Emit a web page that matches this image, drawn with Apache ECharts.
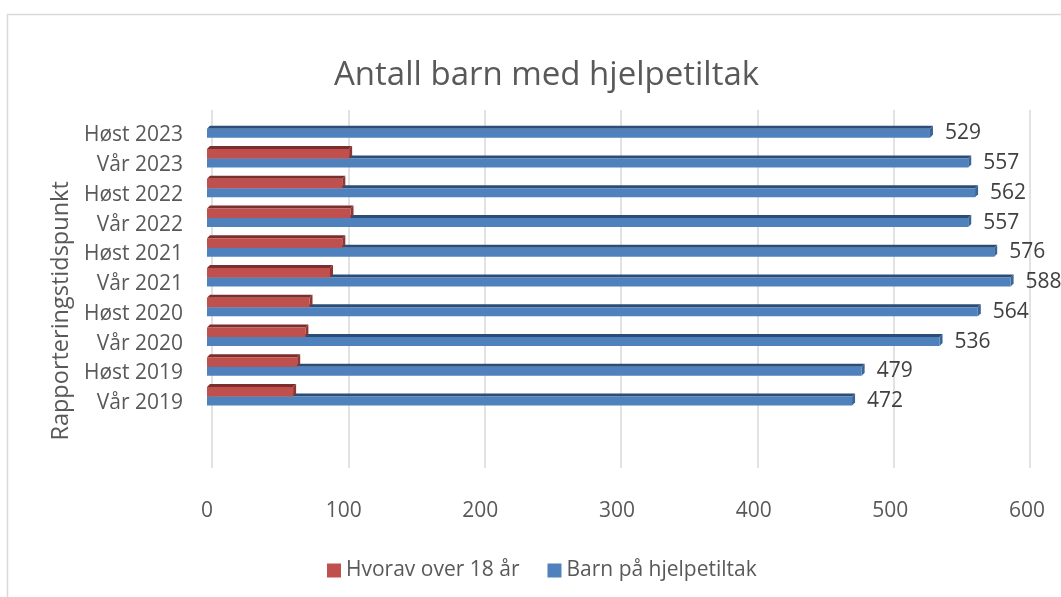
<!DOCTYPE html>
<html>
<head>
<meta charset="utf-8">
<title>Antall barn med hjelpetiltak</title>
<script src="https://cdn.jsdelivr.net/npm/echarts@6/dist/echarts.min.js"></script>
<style>
  html, body { margin: 0; padding: 0; background: #fff; }
  #chart { width: 1061px; height: 597px; }
</style>
</head>
<body>
<div id="chart"></div>
<script>
  // rapporteringstidspunkt, nederst til øverst
  var periods = ['Vår 2019', 'Høst 2019', 'Vår 2020', 'Høst 2020', 'Vår 2021',
    'Høst 2021', 'Vår 2022', 'Høst 2022', 'Vår 2023', 'Høst 2023']
  var barnPaHjelpetiltak = [472, 479, 536, 564, 588, 576, 557, 562, 557, 529]
  var hvoravOver18 = [63, 66, 72, 75, 90, 99, 105, 99, 104, null]
  var xTicks = [0, 100, 200, 300, 400, 500, 600]

  // Excel-diagrammet har to tomme plasser under første kategori
  var categories = [' ', '  '].concat(periods)

  var font = '"Open Sans", "DejaVu Sans", sans-serif'
  var grey = '#595959'

  // 3D-aktig stolpe: front, topp og side
  function bar3d (top, height, colors, showLabel) {
    return function (params, api) {
      var val = api.value(0)
      if (val == null || isNaN(val)) return
      var start = api.coord([0, api.value(1)])
      var end = api.coord([val, api.value(1)])
      var x0 = start[0]
      var x1 = end[0]
      var y0 = start[1] + top
      var d = 3
      var children = [
        {
          type: 'polygon',
          shape: { points: [[x0, y0], [x0 + d, y0 - d], [x1 + d, y0 - d], [x1, y0]] },
          style: { fill: colors.top }
        },
        {
          type: 'polygon',
          shape: { points: [[x1, y0], [x1 + d, y0 - d], [x1 + d, y0 - d + height], [x1, y0 + height]] },
          style: { fill: colors.side }
        },
        {
          type: 'rect',
          shape: { x: x0, y: y0, width: x1 - x0, height: height },
          style: { fill: colors.face }
        }
      ]
      if (showLabel) {
        children.push({
          type: 'text',
          x: x1 + 15,
          y: start[1] + 2,
          style: {
            text: String(val),
            font: '21px ' + font,
            fill: '#404040',
            align: 'left',
            verticalAlign: 'middle'
          }
        })
      }
      return { type: 'group', children: children }
    }
  }

  var chart = echarts.init(document.getElementById('chart'))

  chart.setOption({
    animation: false,
    backgroundColor: '#fff',
    textStyle: { fontFamily: font },
    title: {
      text: 'Antall barn med hjelpetiltak',
      left: 329,
      top: 54,
      textStyle: { fontFamily: font, fontSize: 33, fontWeight: 'normal', color: grey }
    },
    graphic: [
      {
        type: 'rect',
        left: 5,
        top: 12,
        shape: { width: 1080, height: 600 },
        style: { fill: 'none', stroke: '#d9d9d9', lineWidth: 1.5 },
        silent: true
      }
    ],
    legend: {
      top: 555,
      left: 322,
      icon: 'rect',
      itemWidth: 14,
      itemHeight: 14,
      itemGap: 28,
      textStyle: { fontFamily: font, fontSize: 21, color: grey },
      data: ['Hvorav over 18 år', 'Barn på hjelpetiltak']
    },
    grid: [
      { left: 207, right: 34, top: 116.4, height: 357 },
      // bakvegg med rutenett, forskjøvet som i 3D
      { left: 212, width: 818, top: 110, height: 358 }
    ],
    xAxis: [
      {
        type: 'value',
        gridIndex: 0,
        min: 0,
        max: 600,
        interval: 100,
        axisLine: { show: false },
        axisTick: { show: false },
        splitLine: { show: false },
        axisLabel: {
          margin: 27,
          fontSize: 21,
          color: grey,
          fontFamily: font,
          customValues: xTicks
        }
      },
      {
        type: 'value',
        gridIndex: 1,
        min: 0,
        max: 600,
        interval: 100,
        axisLine: { show: false },
        axisTick: { show: false },
        axisLabel: { show: false },
        splitLine: { show: true, lineStyle: { color: '#d9d9d9', width: 1.5 } }
      }
    ],
    yAxis: [
      {
        type: 'category',
        gridIndex: 0,
        data: categories,
        axisLine: { show: false },
        axisTick: { show: false },
        axisLabel: {
          margin: 24,
          formatter: function (v) { return '{c|' + v + '}' },
          rich: {
            c: { fontSize: 21, color: grey, fontFamily: font, padding: [8, 0, 0, 0] }
          }
        },
        name: 'Rapporteringstidspunkt',
        nameLocation: 'middle',
        nameRotate: 90,
        nameGap: 132,
        nameTextStyle: { fontSize: 23.5, color: grey, fontFamily: font, padding: [0, 32, 0, 0] }
      },
      {
        type: 'category',
        gridIndex: 1,
        data: categories,
        show: false
      }
    ],
    series: [
      {
        name: 'Hvorav over 18 år',
        type: 'custom',
        xAxisIndex: 0,
        yAxisIndex: 0,
        z: 3,
        itemStyle: { color: '#c0504d' },
        encode: { x: 0, y: 1 },
        renderItem: bar3d(-12, 9.5, { face: '#c0504d', top: '#7b2e2c', side: '#8f3532' }, false),
        data: hvoravOver18.map(function (v, i) { return [v, periods[i]] })
      },
      {
        name: 'Barn på hjelpetiltak',
        type: 'custom',
        xAxisIndex: 0,
        yAxisIndex: 0,
        z: 2,
        itemStyle: { color: '#4f81bd' },
        encode: { x: 0, y: 1 },
        renderItem: bar3d(-2.5, 9, { face: '#4f81bd', top: '#2c4d75', side: '#3a6597' }, true),
        data: barnPaHjelpetiltak.map(function (v, i) { return [v, periods[i]] })
      }
    ]
  })
</script>
</body>
</html>
